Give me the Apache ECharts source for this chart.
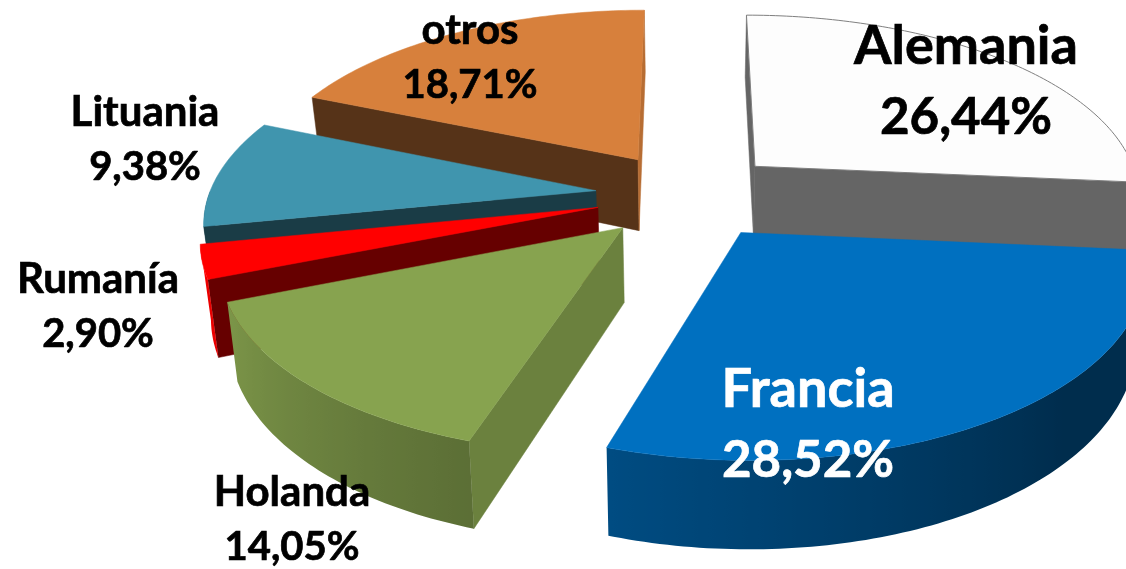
<!DOCTYPE html>
<html>
<head>
    <meta charset="utf-8">
    <title>Pie 3D</title>
    <script src="https://cdn.jsdelivr.net/npm/echarts@6/dist/echarts.min.js"></script>
    <style>
        html,body{ margin:0; padding:0; background:#fff; }
        #main{ width:1126px; height:569px; }
    </style>
</head>
<body>
<div id="main"></div>
<script>
    // datos, en el orden de la tarta (sentido horario desde arriba)
    var names  = ['Alemania', 'Francia', 'Holanda', 'Rumanía', 'Lituania', 'otros'];
    var shares = [26.44, 28.52, 14.05, 2.90, 9.38, 18.71];

    var colors = ['#fdfdfd', '#0070c0', '#87a34f', '#ff0000', '#4095ae', '#d7803c'];
    var labelColors = ['#000', '#fff', '#000', '#000', '#000', '#000'];
    var labelSizes = [54, 54, 42, 42, 42, 42];
    var labelAt = [[966, 82], [808, 425], [292, 520], [98, 307], [145, 140], [470, 58]];
    var paintOrder = [0, 5, 4, 3, 2, 1];  // de atras hacia delante

    // proyeccion
    var cx = 688, cy = 195;
    var radiusX = 387, radiusY = 181.6, depthPx = 73;
    var persp = 0.149, explode = 0.24, lean = 0.022;

    function project(x, y, bottom) {
        var f = 1 / (1 - persp * y);
        var sx = cx + radiusX * x * f;
        var sy = cy + radiusY * y * f + (bottom ? depthPx * f : 0);
        if (bottom) sx += lean * (cx - sx);
        return [sx, sy];
    }

    function shade(hex, k) {
        var n = parseInt(hex.slice(1), 16);
        return 'rgb(' + Math.round((n >> 16) * k) + ',' + Math.round(((n >> 8) & 255) * k) + ',' + Math.round((n & 255) * k) + ')';
    }

    // luz sobre la pared curva
    function arcLight(deg) {
        if (deg < 135) return 0.40;
        if (deg < 198) return 0.40 + (deg - 135) / 63 * 0.28;
        if (deg < 250) return 0.68 + (deg - 198) / 52 * 0.25;
        if (deg < 259.2) return 1;
        return 0.40;
    }

    // luz sobre las paredes radiales
    function wallLight(deg) {
        if (deg > 330) return 0.85;
        if (deg > 180 && deg < 220) return 0.79;
        return 0.40;
    }

    function area(p) {
        var s = 0;
        for (var i = 0; i < p.length; i++) {
            var q = p[(i + 1) % p.length];
            s += p[i][0] * q[1] - q[0] * p[i][1];
        }
        return s / 2;
    }

    var angles = [], acc = 0;
    shares.forEach(function (v) {
        angles.push([acc, acc + v * 3.6]);
        acc += v * 3.6;
    });

    function renderSlice(params, api) {
        var idx = api.value(0);
        var a0 = api.value(1), a1 = api.value(2);
        var color = colors[idx];
        var mid = (a0 + a1) / 2 * Math.PI / 180;
        var ox = explode * Math.sin(mid), oy = -explode * Math.cos(mid);
        function pt(deg, r, bottom) {
            var t = deg * Math.PI / 180;
            return project(ox + r * Math.sin(t), oy - r * Math.cos(t), bottom);
        }
        var kids = [];
        function poly(points, fill, stroke, width) {
            kids.push({
                type: 'polygon',
                shape: { points: points },
                style: { fill: fill, stroke: stroke || null, lineWidth: width || 0 }
            });
        }
        // paredes radiales: solo las que miran a la camara
        var w0 = [pt(a0, 0), pt(a0, 1), pt(a0, 1, true), pt(a0, 0, true)];
        var w1 = [pt(a1, 0), pt(a1, 1), pt(a1, 1, true), pt(a1, 0, true)];
        if (area(w0) < 0) poly(w0, shade(color, wallLight(a0)), shade(color, wallLight(a0)), 0.5);
        if (area(w1) > 0) poly(w1, shade(color, wallLight(a1)), shade(color, wallLight(a1)), 0.5);

        // pared curva, solo la parte que mira al frente
        var from = Math.max(a0, 90), to = Math.min(a1, 270);
        if (to > from) {
            var upper = [], lower = [], stops = [];
            var startX = pt(from, 1)[0], endX = pt(to, 1)[0];
            for (var d = from; d < to + 0.001; d = (d < to && d + 1 > to) ? to : d + 1) {
                var pu = pt(d, 1);
                upper.push(pu);
                lower.unshift(pt(d, 1, true));
                stops.push({
                    offset: Math.max(0, Math.min(1, (pu[0] - startX) / (endX - startX))),
                    color: shade(color, arcLight(d))
                });
                if (d === to) break;
            }
            poly(upper.concat(lower), {
                type: 'linear', global: true,
                x: startX, y: 0, x2: endX, y2: 0,
                colorStops: stops
            });
        }

        // tapa
        var top = [pt(a0, 0)];
        for (var s = a0; s < a1; s += 1) top.push(pt(s, 1));
        top.push(pt(a1, 1));
        if (idx === 0) poly(top, color, '#7f7f7f', 1);
        else poly(top, color, color, 0.5);

        // el nombre y el porcentaje van en dos lineas
        var size = labelSizes[idx];
        var lineGap = Math.round(size * 1.32);
        kids.push({
            type: 'text',
            z2: 100,
            style: {
                x: labelAt[idx][0], y: labelAt[idx][1],
                text: '{n|' + names[idx] + '}\n{p|' + shares[idx].toFixed(2).replace('.', ',') + '%}',
                rich: {
                    n: { font: 'bold ' + size + 'px Lato', lineHeight: lineGap, fill: labelColors[idx], stroke: labelColors[idx], lineWidth: 0.7 },
                    p: { font: 'bold ' + Math.round(size * 0.95) + 'px Lato', lineHeight: lineGap, fill: labelColors[idx], stroke: labelColors[idx], lineWidth: 0.7 }
                },
                align: 'center', verticalAlign: 'middle'
            }
        });
        return { type: 'group', children: kids };
    }

    var sliceData = paintOrder.map(function (i) {
        return [i, angles[i][0], angles[i][1]];
    });

    var chart = echarts.init(document.getElementById('main'));
    chart.setOption({
        animation: false,
        series: [{
            type: 'custom',
            coordinateSystem: 'none',
            renderItem: renderSlice,
            data: sliceData
        }]
    });
</script>
</body>
</html>
